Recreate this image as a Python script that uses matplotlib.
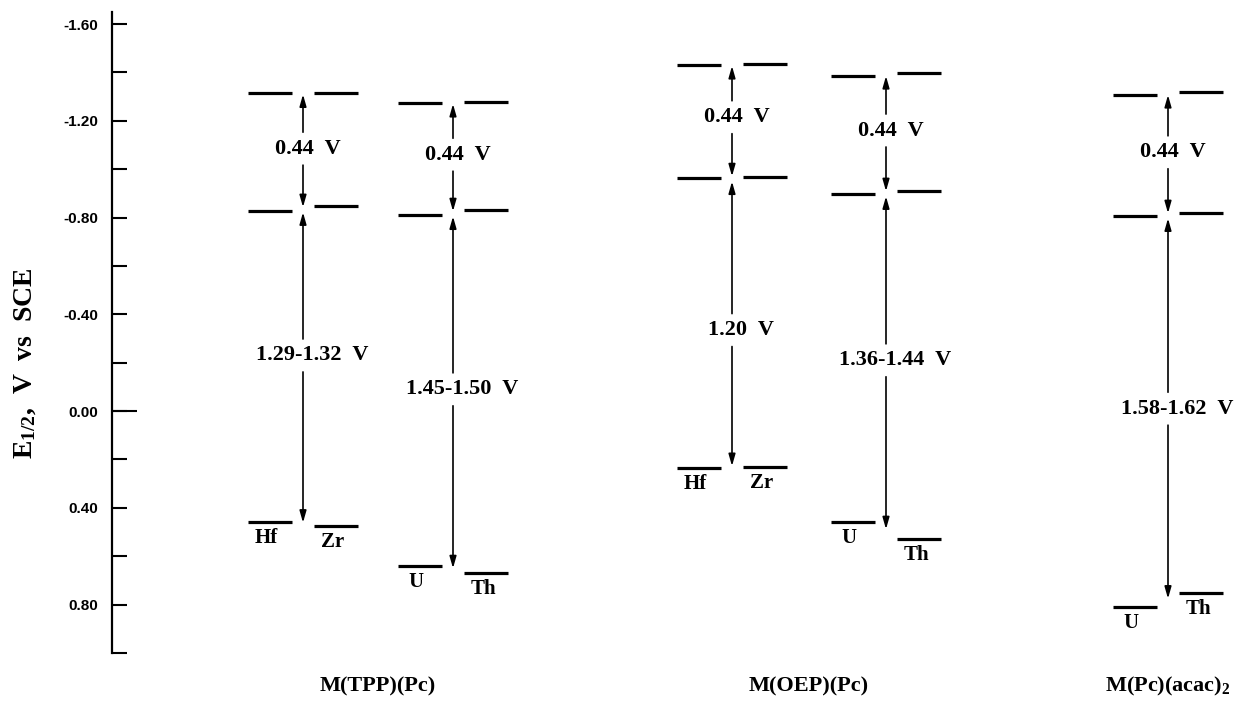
import matplotlib
matplotlib.use("Agg")
import matplotlib.pyplot as plt
import numpy as np

# ---------------- data ----------------
pair_left = ["Hf", "U", "Hf", "U", "U"]
pair_right = ["Zr", "Th", "Zr", "Th", "Th"]
top_left = [-1.315, -1.273, -1.430, -1.385, -1.306]
top_right = [-1.315, -1.278, -1.435, -1.397, -1.319]
mid_left = [-0.827, -0.810, -0.963, -0.897, -0.806]
mid_right = [-0.848, -0.831, -0.967, -0.910, -0.819]
bot_left = [0.459, 0.641, 0.235, 0.459, 0.810]
bot_right = [0.475, 0.670, 0.231, 0.529, 0.752]
gap1_labels = ["0.44  V", "0.44  V", "0.44  V", "0.44  V", "0.44  V"]
gap2_labels = ["1.29-1.32  V", "1.45-1.50  V", "1.20  V", "1.36-1.44  V", "1.58-1.62  V"]
gap1_label_y = [-1.085, -1.060, -1.215, -1.160, -1.070]
gap2_label_y = [-0.230, -0.090, -0.335, -0.210, -0.010]
compounds = ["M(TPP)(Pc)", "M(OEP)(Pc)", r"M(Pc)(acac)$_\mathbf{2}$"]
compound_members = [[0, 1], [2, 3], [4]]
yticks = [-1.60, -1.40, -1.20, -1.00, -0.80, -0.60, -0.40, -0.20, 0.00, 0.20, 0.40, 0.60, 0.80, 1.00]
ytick_labels = ["-1.60", "", "-1.20", "", "-0.80", "", "-0.40", "", "0.00", "", "0.40", "", "0.80", ""]

# ---------------- layout ----------------
W, H = 1244, 701
group_x = [303, 453, 732, 886, 1168]   # arrow positions (pixel-like x units)
bar_off = 33
bar_half = 22

plt.rcParams['mathtext.fontset'] = 'custom'
plt.rcParams['mathtext.rm'] = 'Liberation Serif:bold'
plt.rcParams['mathtext.bf'] = 'Liberation Serif:bold'
plt.rcParams['mathtext.it'] = 'Liberation Serif:bold'

serif = ['Liberation Serif', 'DejaVu Serif']
narrow = ['Liberation Sans Narrow', 'Liberation Sans', 'DejaVu Sans']

fig = plt.figure(figsize=(W / 100, H / 100), dpi=100)
ax = fig.add_axes([112 / W, 1 - 653 / H, (W - 112) / W, (653 - 12) / H])
ax.set_xlim(112, W)
ax.set_ylim(1.00, -1.65)

for s in ['top', 'right', 'bottom']:
    ax.spines[s].set_visible(False)
ax.spines['left'].set_linewidth(1.6)
ax.set_xticks([])
ax.set_yticks(yticks)
ax.set_yticklabels(ytick_labels)
ax.tick_params(axis='y', direction='in', length=11, width=1.5, pad=10)
for lab in ax.get_yticklabels():
    lab.set_family(narrow)
    lab.set_fontweight('bold')
    lab.set_fontsize(11)
# longer tick at 0.00
ax.plot([112, 137], [0.0, 0.0], color='black', lw=1.5, clip_on=False, solid_capstyle='butt')

bar_kw = dict(color='black', lw=2.3, solid_capstyle='butt')
arrow_kw = dict(arrowstyle='-|>,head_length=0.7,head_width=0.2', color='black', lw=1.2,
                shrinkA=0, shrinkB=1, mutation_scale=10)
g = 0.068

for i, x in enumerate(group_x):
    xl = x - bar_off
    xr = x + bar_off
    for lv in (top_left[i], mid_left[i], bot_left[i]):
        ax.plot([xl - bar_half, xl + bar_half], [lv, lv], **bar_kw)
    for lv in (top_right[i], mid_right[i], bot_right[i]):
        ax.plot([xr - bar_half, xr + bar_half], [lv, lv], **bar_kw)

    top = (top_left[i] + top_right[i]) / 2
    mid = (mid_left[i] + mid_right[i]) / 2
    bot = (bot_left[i] + bot_right[i]) / 2

    # upper gap
    y1 = gap1_label_y[i]
    ax.annotate('', xy=(x, top), xytext=(x, y1 - g), arrowprops=arrow_kw)
    ax.annotate('', xy=(x, mid), xytext=(x, y1 + g), arrowprops=arrow_kw)
    ax.text(x + 5, y1, gap1_labels[i], ha='center', va='center', family=serif,
            fontweight='bold', fontsize=16)
    # lower gap
    y2 = gap2_label_y[i]
    ax.annotate('', xy=(x, mid + 0.01), xytext=(x, y2 - g), arrowprops=arrow_kw)
    ax.annotate('', xy=(x, bot), xytext=(x, y2 + g), arrowprops=arrow_kw)
    ax.text(x + 9, y2, gap2_labels[i], ha='center', va='center', family=serif,
            fontweight='bold', fontsize=16)

    # element labels
    ax.text(xl - 4, bot_left[i] + 0.025, pair_left[i], ha='center', va='top', family=serif,
            fontweight='bold', fontsize=15)
    ax.text(xr - 3, bot_right[i] + 0.025, pair_right[i], ha='center', va='top', family=serif,
            fontweight='bold', fontsize=15)

for name, members in zip(compounds, compound_members):
    cx = np.mean([group_x[m] for m in members])
    ax.text(cx, 1.16, name, ha='center', va='baseline', family=serif, fontweight='bold',
            fontsize=16, clip_on=False)

fig.text(25 / W, 1 - 363 / H, r"E$_\mathbf{1/2}$,  V  vs  SCE", rotation=90, ha='center', va='center',
         family=serif, fontweight='bold', fontsize=20)

fig.savefig("out.png", dpi=100)
